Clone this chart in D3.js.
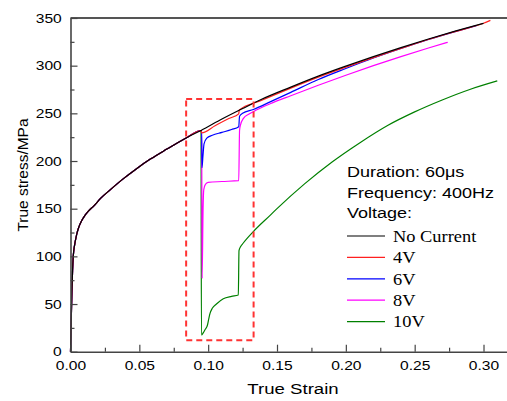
<!DOCTYPE html>
<html>
<head>
<meta charset="utf-8">
<script src="https://cdn.jsdelivr.net/npm/d3@7"></script>
<style>
  body { margin: 0; background: #fff; }
  svg { display: block; font-family: 'Liberation Sans', Arial, sans-serif; }
</style>
</head>
<body>
<div id="chart"></div>
<script>
// loading part shared by every curve, before the current pulse
const sharedLoading = [
  [0, 0], [0.0005, 30], [0.001, 62], [0.0015, 85], [0.002, 100], [0.003, 112],
  [0.0045, 123], [0.006, 130.5], [0.008, 137], [0.0105, 143], [0.013, 147.5],
  [0.017, 153], [0.022, 161], [0.029, 170], [0.038, 181], [0.048, 192],
  [0.058, 202], [0.07, 212.5], [0.085, 225], [0.0948, 232],
];

const noCurrent = [
  [0.11, 244], [0.125, 255], [0.1377, 264], [0.16, 277.5], [0.18, 289], [0.2, 299.5],
  [0.22, 309.5], [0.24, 319], [0.26, 328], [0.28, 336.5], [0.30, 344.5],
];
const volt4 = [
  [0.0952, 229.5], [0.105, 237], [0.115, 244.5], [0.1222, 249.5], [0.1226, 253.5],
  [0.1377, 263], [0.16, 276.5], [0.18, 288], [0.2, 298.5], [0.22, 308.5],
  [0.24, 318], [0.26, 327.5], [0.28, 336], [0.30, 344.5], [0.305, 347.5],
];
const volt6 = [
  [0.0953, 232], [0.0955, 193], [0.0962, 205], [0.097, 218], [0.099, 224], [0.103, 227],
  [0.11, 230], [0.117, 233], [0.1222, 236], [0.1228, 247], [0.125, 250], [0.1328, 254],
  [0.145, 262], [0.16, 272], [0.18, 285.5], [0.2, 297], [0.22, 308], [0.24, 318],
  [0.26, 327.5], [0.28, 336], [0.295, 342],
];
const volt8 = [
  [0.0953, 232], [0.0956, 77], [0.0963, 150], [0.0968, 170], [0.098, 175.5], [0.1, 177.5],
  [0.11, 178.5], [0.1222, 179.5], [0.1228, 232], [0.1235, 238], [0.1255, 244.5],
  [0.13, 249.5], [0.135, 253.5], [0.145, 260], [0.16, 268.5], [0.18, 279.5],
  [0.2, 290], [0.22, 300], [0.24, 309.5], [0.26, 318.5], [0.274, 324.5],
];
const volt10 = [
  [0.0951, 17.5], [0.0965, 20], [0.0977, 23], [0.0995, 28], [0.1005, 35], [0.1013, 40],
  [0.103, 45.5], [0.106, 50], [0.111, 55.5], [0.117, 58], [0.1219, 59.5], [0.1224, 106],
  [0.1235, 110], [0.1255, 114], [0.1328, 126], [0.145, 143], [0.15, 150], [0.17, 176],
  [0.19, 199], [0.21, 219], [0.23, 237], [0.25, 251.5], [0.27, 264], [0.29, 275], [0.31, 284],
];

const seriesNames = ['No Current', '4V', '6V', '8V', '10V'];
const seriesColors = ['#000000', '#ff2020', '#0000ff', '#ff00ff', '#008000'];
const seriesValues = [noCurrent, volt4, volt6, volt8, volt10];

const xTicks = [0, 0.05, 0.10, 0.15, 0.20, 0.25, 0.30];
const xMinorTicks = [0.025, 0.075, 0.125, 0.175, 0.225, 0.275];
const yTicks = [0, 50, 100, 150, 200, 250, 300, 350];
const yMinorTicks = [25, 75, 125, 175, 225, 275, 325];
const noteLines = ['Duration: 60μs', 'Frequency: 400Hz', 'Voltage:'];

// dashed box around the pulse region
const boxStrain = [0.084, 0.133];
const boxStress = [12, 265];

class StressStrainChart {
  constructor(_config) {
    this.config = {
      parentElement: _config.parentElement,
      containerWidth: 507,
      containerHeight: 401,
      plotLeft: 70.5,
      plotTop: 18,
      plotBottom: 351.7,
      stretch: 1.2, // the original text is a bit wide
    };
    this.initVis();
  }

  initVis() {
    const vis = this;
    const c = vis.config;

    vis.svg = d3.select(c.parentElement).append('svg')
      .attr('width', c.containerWidth)
      .attr('height', c.containerHeight);

    vis.xScale = d3.scaleLinear()
      .domain([0, 0.32])
      .range([c.plotLeft, c.plotLeft + 0.32 * 1376.7]);

    vis.yScale = d3.scaleLinear()
      .domain([0, 350])
      .range([c.plotBottom, c.plotTop]);

    vis.line = d3.line()
      .x((d) => vis.xScale(d[0]))
      .y((d) => vis.yScale(d[1]))
      .curve(d3.curveMonotoneX);

    vis.renderVis();
  }

  renderVis() {
    const vis = this;
    const c = vis.config;
    const axisColor = '#444';

    // top frame line
    vis.svg.append('line')
      .attr('x1', c.plotLeft).attr('x2', c.containerWidth)
      .attr('y1', c.plotTop).attr('y2', c.plotTop)
      .attr('stroke', '#555').attr('stroke-width', 2);

    // curves, black last so it sits on the shared part
    const order = [4, 3, 2, 1, 0];
    vis.svg.selectAll('path.curve')
      .data(order)
      .join('path')
      .attr('class', 'curve')
      .attr('fill', 'none')
      .attr('stroke', (i) => seriesColors[i])
      .attr('stroke-width', 1.2)
      .attr('stroke-linejoin', 'round')
      .attr('d', (i) => vis.line(sharedLoading.concat(seriesValues[i])));

    // highlight box
    vis.svg.append('rect')
      .attr('x', vis.xScale(boxStrain[0]))
      .attr('y', vis.yScale(boxStress[1]))
      .attr('width', vis.xScale(boxStrain[1]) - vis.xScale(boxStrain[0]))
      .attr('height', vis.yScale(boxStress[0]) - vis.yScale(boxStress[1]))
      .attr('fill', 'none')
      .attr('stroke', '#ff3333')
      .attr('stroke-width', 2)
      .attr('stroke-dasharray', '6,4');

    // axes, ticks pointing inward
    const xAxisG = vis.svg.append('g')
      .attr('transform', `translate(0,${c.plotBottom})`)
      .call(d3.axisBottom(vis.xScale).tickValues(xTicks)
        .tickFormat(d3.format('.2f')).tickSizeInner(-7).tickSizeOuter(0).tickPadding(9));
    vis.svg.append('g')
      .attr('transform', `translate(0,${c.plotBottom})`)
      .call(d3.axisBottom(vis.xScale).tickValues(xMinorTicks)
        .tickFormat('').tickSizeInner(-4).tickSizeOuter(0))
      .call((g) => g.select('.domain').remove());

    const yAxisG = vis.svg.append('g')
      .attr('transform', `translate(${c.plotLeft},0)`)
      .call(d3.axisLeft(vis.yScale).tickValues(yTicks)
        .tickSizeInner(-7).tickSizeOuter(0).tickPadding(7.3));
    vis.svg.append('g')
      .attr('transform', `translate(${c.plotLeft},0)`)
      .call(d3.axisLeft(vis.yScale).tickValues(yMinorTicks)
        .tickFormat('').tickSizeInner(-4).tickSizeOuter(0))
      .call((g) => g.select('.domain').remove());

    vis.svg.selectAll('.domain, .tick line')
      .attr('stroke', axisColor)
      .attr('stroke-width', 1.6);
    vis.svg.selectAll('.tick line').attr('stroke-width', 1.2);

    [xAxisG, yAxisG].forEach((g) => g.selectAll('.tick text')
      .attr('font-family', "'Liberation Sans', Arial, sans-serif")
      .attr('font-size', 13)
      .attr('fill', '#000')
      .attr('transform', `scale(${c.stretch},1)`));

    // axis titles
    vis.svg.append('text')
      .attr('transform', `translate(293,394) scale(${c.stretch},1)`)
      .attr('text-anchor', 'middle')
      .attr('font-size', 15.5)
      .text('True Strain');

    vis.svg.append('text')
      .attr('transform', 'translate(28,175) rotate(-90)')
      .attr('text-anchor', 'middle')
      .attr('font-size', 15.5)
      .text('True stress/MPa');

    // notes above legend
    vis.svg.selectAll('text.note')
      .data(noteLines)
      .join('text')
      .attr('class', 'note')
      .attr('transform', (d, i) => `translate(347,${177.3 + i * 20.5}) scale(${c.stretch},1)`)
      .attr('font-size', 15)
      .text((d) => d);

    // legend
    const legend = vis.svg.selectAll('g.legend-item')
      .data(seriesNames)
      .join('g')
      .attr('class', 'legend-item')
      .attr('transform', (d, i) => `translate(347,${236 + i * 21.4})`);

    legend.append('line')
      .attr('x1', 0).attr('x2', 38)
      .attr('stroke', (d, i) => seriesColors[i])
      .attr('stroke-width', 1.2);

    legend.append('text')
      .attr('transform', 'translate(46,5.7) scale(1.15,1)')
      .attr('font-family', "'Liberation Serif', 'Times New Roman', serif")
      .attr('font-size', 16)
      .text((d) => d);
  }
}

new StressStrainChart({ parentElement: '#chart' });
</script>
</body>
</html>
